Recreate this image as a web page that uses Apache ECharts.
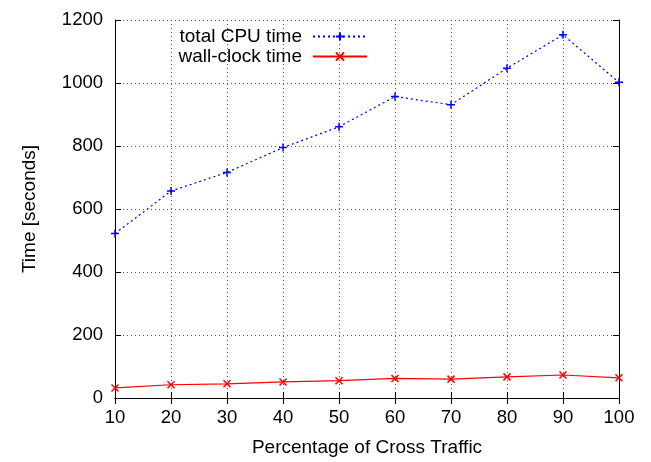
<!DOCTYPE html>
<html>
<head>
<meta charset="utf-8">
<script src="https://cdn.jsdelivr.net/npm/echarts@6/dist/echarts.min.js"></script>
<style>
  html, body { margin: 0; padding: 0; background: #fff; }
  #chart { width: 651px; height: 462px; }
</style>
</head>
<body>
<div id="chart"></div>
<script>
const traffic = [10, 20, 30, 40, 50, 60, 70, 80, 90, 100];
const cpuTime = [522, 657, 716, 795, 861, 957, 931, 1047, 1153, 1002];
const wallTime = [32, 42, 45, 51, 55, 62, 60, 67, 73, 64];

const plusPath = 'path://M0,5L10,5M5,0L5,10';
const crossPath = 'path://M0,0L10,10M10,0L0,10';

const chart = echarts.init(document.getElementById('chart'));

const font = 'Liberation Sans, Arial, sans-serif';
const gridLine = { show: true, lineStyle: { color: '#555', type: [1, 3], width: 1 } };
const legendText = { fontFamily: font, fontSize: 19, color: '#000', padding: [0, 6, 0, 0] };

const option = {
    animation: false,
    grid: { left: 115, right: 32, top: 20, bottom: 60 },
    legend: [
        {
            data: ['total CPU time'],
            right: 278, top: 22,
            align: 'right',
            itemWidth: 54, itemHeight: 10,
            textStyle: legendText
        },
        {
            data: ['wall-clock time'],
            right: 278, top: 42,
            align: 'right',
            itemWidth: 54, itemHeight: 10,
            textStyle: legendText
        }
    ],
    xAxis: [
        {
            type: 'value', min: 10, max: 100, interval: 10,
            name: 'Percentage of Cross Traffic',
            nameLocation: 'middle', nameGap: 40,
            nameTextStyle: { fontFamily: font, fontSize: 19, color: '#000' },
            axisLine: { lineStyle: { color: '#000', width: 1 } },
            axisTick: { inside: true, length: 6, lineStyle: { color: '#000' } },
            axisLabel: { fontFamily: font, fontSize: 18.5, color: '#000', margin: 10 },
            splitLine: gridLine
        },
        {
            type: 'value', min: 10, max: 100, interval: 10, position: 'top',
            axisLine: { show: true, lineStyle: { color: '#000', width: 1 } },
            axisTick: { show: true, inside: true, length: 6, lineStyle: { color: '#000' } },
            axisLabel: { show: false },
            splitLine: { show: false }
        }
    ],
    yAxis: [
        {
            type: 'value', min: 0, max: 1200, interval: 200,
            name: 'Time [seconds]',
            nameLocation: 'middle', nameGap: 76, nameRotate: 90,
            nameTextStyle: { fontFamily: font, fontSize: 19, color: '#000' },
            axisLine: { show: true, lineStyle: { color: '#000', width: 1 } },
            axisTick: { show: true, inside: true, length: 6, lineStyle: { color: '#000' } },
            axisLabel: { fontFamily: font, fontSize: 18.5, color: '#000', margin: 12, formatter: v => String(v) },
            splitLine: gridLine
        },
        {
            type: 'value', min: 0, max: 1200, interval: 200, position: 'right',
            axisLine: { show: true, lineStyle: { color: '#000', width: 1 } },
            axisTick: { show: true, inside: true, length: 6, lineStyle: { color: '#000' } },
            axisLabel: { show: false },
            splitLine: { show: false }
        }
    ],
    series: [
        {
            name: 'total CPU time',
            type: 'line',
            data: traffic.map((t, i) => [t, cpuTime[i]]),
            symbol: plusPath,
            symbolSize: 8,
            itemStyle: { color: 'transparent', borderColor: '#0000ff', borderWidth: 1.5 },
            lineStyle: { color: '#0000ff', width: 1.2, type: [2, 3] }
        },
        {
            name: 'wall-clock time',
            type: 'line',
            data: traffic.map((t, i) => [t, wallTime[i]]),
            symbol: crossPath,
            symbolSize: 7,
            itemStyle: { color: 'transparent', borderColor: '#ff0000', borderWidth: 1.5 },
            lineStyle: { color: '#ff0000', width: 1.2 }
        }
    ]
};

chart.setOption(option);
</script>
</body>
</html>
